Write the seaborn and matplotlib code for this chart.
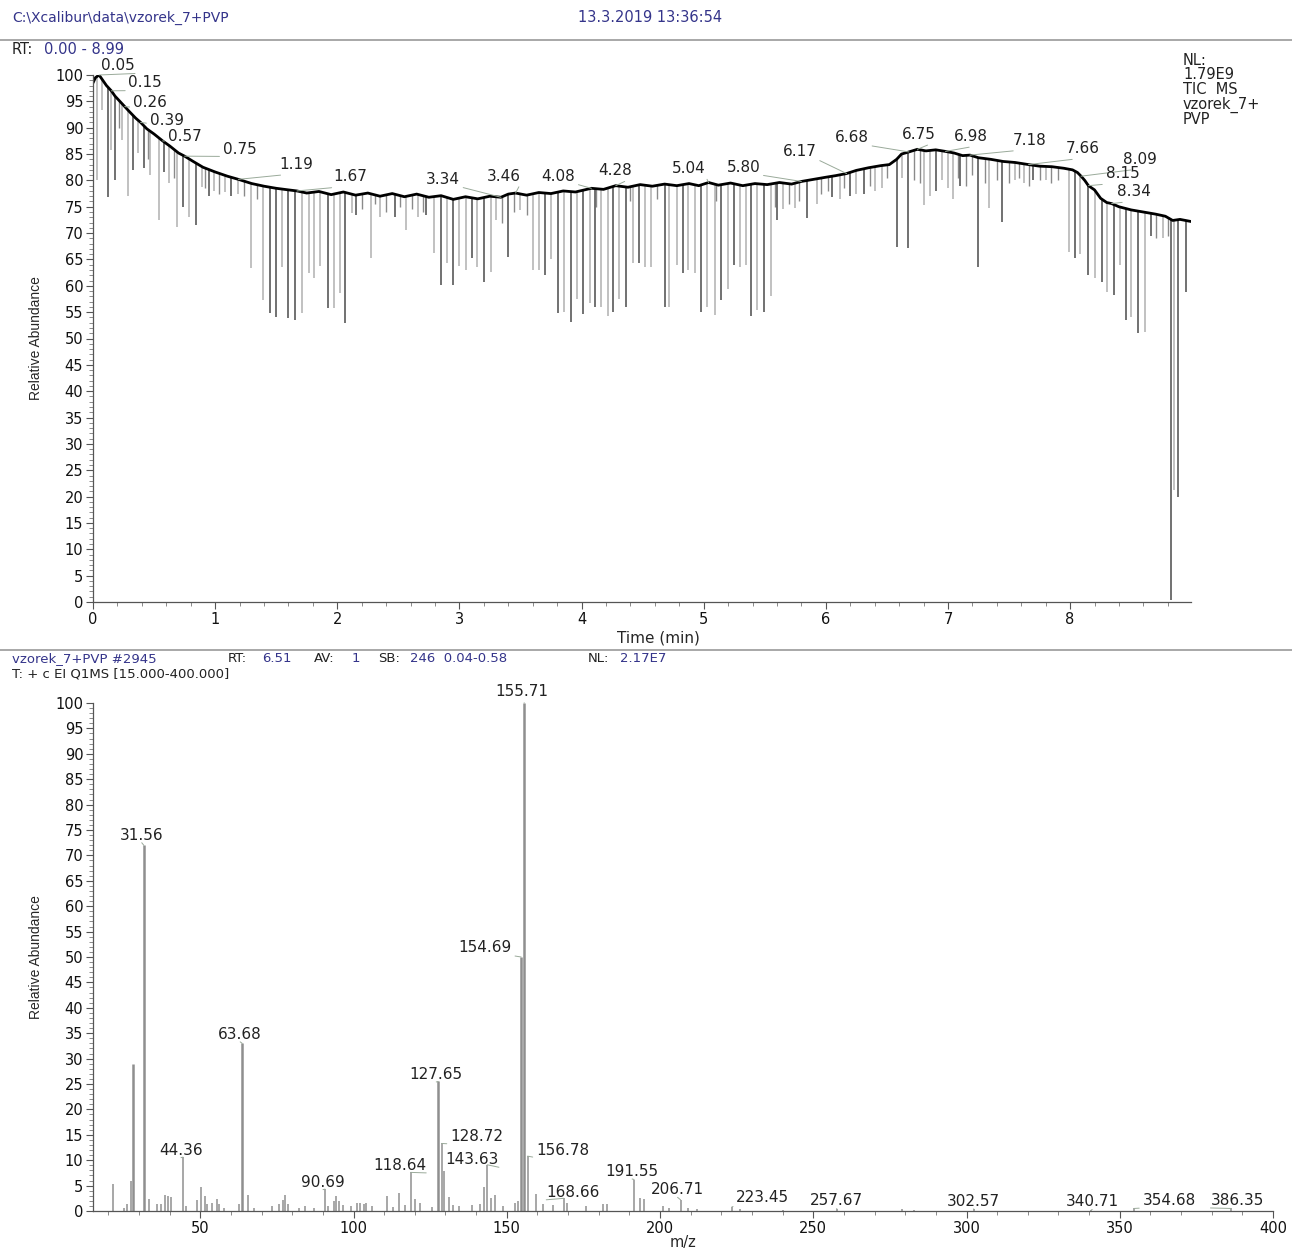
import numpy as np
import matplotlib
matplotlib.use('Agg')
import matplotlib.pyplot as plt
from matplotlib.lines import Line2D
from matplotlib.ticker import MultipleLocator
import seaborn as sns

# ---------------- chromatogram (TIC) ----------------
rt = [0.00, 0.02, 0.05, 0.08, 0.11, 0.15, 0.18, 0.22, 0.26, 0.30, 0.35, 0.39, 0.44, 0.50,
      0.57, 0.63, 0.70, 0.75, 0.82, 0.90, 1.00, 1.10, 1.19, 1.30, 1.40, 1.50, 1.60, 1.67,
      1.75, 1.85, 1.95, 2.05, 2.15, 2.25, 2.35, 2.45, 2.55, 2.65, 2.75, 2.85, 2.95, 3.05,
      3.15, 3.25, 3.34, 3.40, 3.46, 3.55, 3.65, 3.75, 3.85, 3.95, 4.08, 4.18, 4.28, 4.38,
      4.48, 4.58, 4.68, 4.78, 4.88, 4.96, 5.04, 5.12, 5.22, 5.32, 5.42, 5.52, 5.62, 5.72,
      5.80, 5.90, 6.00, 6.08, 6.17, 6.25, 6.35, 6.45, 6.52, 6.58, 6.62, 6.68, 6.75, 6.82,
      6.90, 6.98, 7.05, 7.12, 7.18, 7.25, 7.35, 7.45, 7.55, 7.66, 7.75, 7.85, 7.95, 8.02,
      8.06, 8.09, 8.12, 8.15, 8.20, 8.25, 8.30, 8.34, 8.40, 8.50, 8.60, 8.70, 8.78, 8.84,
      8.90, 8.99]
tic = [98.5, 99.5, 100.0, 99.0, 98.0, 97.0, 96.0, 95.0, 94.0, 93.0, 91.8, 91.0, 89.8, 88.8,
       87.5, 86.5, 85.2, 84.6, 83.6, 82.5, 81.6, 80.8, 80.2, 79.4, 78.9, 78.5, 78.2, 78.0,
       77.6, 77.9, 77.3, 77.8, 77.2, 77.6, 77.0, 77.5, 76.9, 77.4, 76.8, 77.1, 76.4, 76.9,
       76.5, 77.0, 76.8, 77.4, 77.6, 77.2, 77.7, 77.5, 78.0, 77.8, 78.5, 78.3, 79.0, 78.7,
       79.2, 78.9, 79.3, 79.0, 79.4, 79.0, 79.6, 79.1, 79.5, 79.0, 79.4, 79.2, 79.6, 79.3,
       79.8, 80.2, 80.6, 80.9, 81.3, 81.9, 82.4, 82.8, 83.0, 84.0, 85.0, 85.4, 85.9, 85.6,
       85.8, 85.5, 85.2, 84.7, 84.8, 84.3, 84.0, 83.6, 83.4, 83.0, 82.7, 82.6, 82.3, 82.0,
       81.5, 80.8, 80.0, 79.0, 78.2, 76.6, 75.8, 75.6, 75.0, 74.4, 74.0, 73.6, 73.2, 72.4,
       72.6, 72.2]

# downward dropouts (time, lowest abundance)
drop_dark_t = [0.12, 0.18, 0.33, 0.42, 0.58, 0.74, 0.84, 0.95, 1.13, 1.45, 1.50, 1.60, 1.65,
               1.92, 2.06, 2.15, 2.47, 2.73, 2.85, 2.95, 3.10, 3.20, 3.40, 3.70, 3.81, 3.91,
               4.01, 4.11, 4.26, 4.36, 4.47, 4.68, 4.83, 4.98, 5.14, 5.25, 5.39, 5.49, 5.60,
               5.85, 6.05, 6.20, 6.31, 6.58, 6.67, 6.90, 7.10, 7.25, 7.44, 7.70, 8.04, 8.15,
               8.26, 8.36, 8.46, 8.56, 8.66, 8.83, 8.88, 8.95]
drop_dark_min = [76.9, 80.0, 82.0, 82.4, 81.5, 75.0, 71.5, 77.0, 77.0, 54.8, 54.1, 53.9, 53.5,
                 55.8, 52.9, 73.5, 73.0, 73.5, 60.2, 60.2, 65.3, 60.7, 65.5, 62.0, 54.8, 53.1,
                 54.6, 56.0, 55.0, 56.0, 64.3, 56.0, 62.4, 55.0, 57.4, 64.0, 54.3, 55.0, 72.4,
                 72.9, 76.9, 77.0, 77.5, 67.4, 67.2, 78.0, 79.0, 63.6, 72.1, 80.0, 65.3, 62.0,
                 60.7, 58.3, 53.5, 51.0, 69.5, 0.4, 20.0, 58.8]
drop_light_t = [0.03, 0.07, 0.15, 0.24, 0.29, 0.37, 0.47, 0.54, 0.62, 0.69, 0.79, 0.89, 0.99,
                1.08, 1.19, 1.29, 1.39, 1.55, 1.71, 1.77, 1.81, 1.86, 1.97, 2.02, 2.12, 2.28,
                2.35, 2.56, 2.66, 2.79, 2.90, 3.00, 3.05, 3.14, 3.26, 3.30, 3.50, 3.60, 3.65,
                3.75, 3.86, 3.96, 4.07, 4.16, 4.22, 4.31, 4.42, 4.52, 4.57, 4.72, 4.78, 4.87,
                4.93, 5.03, 5.09, 5.20, 5.30, 5.35, 5.44, 5.55, 5.65, 5.75, 5.93, 6.12, 6.25,
                6.40, 6.46, 6.62, 6.80, 6.85, 6.95, 7.00, 7.04, 7.34, 7.55, 7.62, 7.80, 7.99,
                8.08, 8.20, 8.30, 8.41, 8.50, 8.61, 8.76, 8.85]
drop_light_min = [80.0, 93.3, 85.8, 87.7, 77.0, 85.2, 81.0, 72.5, 79.5, 71.2, 73.0, 78.8, 78.0,
                  77.8, 77.5, 63.4, 57.3, 63.6, 54.8, 62.4, 61.5, 63.8, 55.8, 58.6, 73.8, 65.3,
                  73.0, 70.6, 73.0, 66.2, 64.3, 63.8, 63.0, 63.6, 62.6, 72.5, 74.4, 63.0, 63.0,
                  65.0, 55.0, 57.5, 56.7, 56.0, 54.3, 57.5, 64.3, 63.5, 63.5, 56.0, 64.0, 63.0,
                  62.4, 56.0, 54.5, 59.4, 63.5, 64.0, 55.5, 58.0, 74.5, 74.8, 75.5, 76.5, 77.5,
                  78.0, 78.5, 80.5, 75.3, 77.0, 80.0, 78.5, 76.5, 74.8, 80.0, 79.5, 80.0, 66.4,
                  66.0, 61.5, 58.8, 64.0, 54.1, 51.2, 69.0, 21.2]
# short dips along the trace
dip_t = [0.21, 0.45, 0.66, 0.92, 1.03, 1.24, 1.34, 2.20, 2.31, 2.40, 2.51, 2.61, 2.70, 3.35,
         3.45, 3.55, 4.12, 4.40, 4.62, 5.10, 5.58, 5.70, 5.78, 5.96, 6.02, 6.15, 6.36, 6.50,
         6.72, 6.77, 7.08, 7.15, 7.20, 7.30, 7.40, 7.50, 7.58, 7.66, 7.75, 7.84, 7.90, 8.70,
         8.80]
dip_min = [90.0, 84.0, 80.5, 78.5, 77.5, 77.0, 76.5, 74.5, 75.5, 74.0, 75.0, 74.5, 74.0, 72.0,
           74.0, 73.5, 75.0, 76.0, 76.5, 76.0, 75.0, 75.5, 76.0, 77.5, 78.0, 78.5, 79.0, 80.5,
           80.0, 79.5, 80.5, 79.0, 81.0, 79.5, 80.0, 79.5, 80.5, 79.0, 80.0, 79.5, 80.0, 69.0,
           69.5]

peak_rt = [0.05, 0.15, 0.26, 0.39, 0.57, 0.75, 1.19, 1.67, 3.34, 3.46, 4.08, 4.28, 5.04,
           5.80, 6.17, 6.68, 6.75, 6.98, 7.18, 7.66, 8.09, 8.15, 8.34]
peak_abund = [100.0, 97.0, 94.0, 91.0, 87.5, 84.6, 80.2, 78.0, 76.8, 77.6, 78.5, 79.0, 79.6,
              79.8, 81.3, 85.4, 85.9, 85.5, 84.8, 83.0, 80.8, 79.0, 75.6]
peak_text = ['0.05', '0.15', '0.26', '0.39', '0.57', '0.75', '1.19', '1.67', '3.34', '3.46',
             '4.08', '4.28', '5.04', '5.80', '6.17', '6.68', '6.75', '6.98', '7.18', '7.66',
             '8.09', '8.15', '8.34']
# label offsets in pixels (layout only)
peak_offset = [(19, 9), (34, 8), (25, 4), (26, 2), (22, 4), (55, 7), (58, 15), (53, 14),
               (-58, 18), (-12, 17), (-33, 12), (-1, 15), (-20, 14), (-58, 14), (-47, 22),
               (-57, 14), (1, 15), (25, 15), (60, 15), (54, 16), (59, 17), (34, 12), (22, 12)]

# ---------------- mass spectrum ----------------
mz = [21.6, 25.0, 26.0, 27.3, 27.9, 31.56, 33.4, 35.9, 37.2, 38.6, 39.6, 40.6, 44.36, 45.4,
      49.0, 50.4, 51.4, 52.2, 53.8, 55.4, 56.2, 57.9, 62.6, 63.68, 65.7, 67.6, 73.5, 75.8,
      76.9, 77.7, 78.6, 82.3, 84.3, 87.0, 90.69, 91.8, 93.6, 94.2, 95.2, 96.5, 99.3, 101.0,
      102.0, 103.3, 104.0, 106.0, 110.8, 112.8, 114.9, 116.9, 118.64, 120.0, 121.6, 125.7,
      127.65, 128.72, 129.5, 131.1, 132.5, 134.5, 138.6, 141.3, 142.7, 143.63, 144.7, 146.0,
      148.8, 152.8, 153.8, 154.69, 155.71, 156.78, 159.6, 161.7, 165.0, 168.66, 169.8, 175.9,
      181.3, 182.7, 191.55, 193.5, 194.8, 201.0, 203.0, 206.71, 209.0, 212.0, 223.45, 226.0,
      240.0, 257.67, 279.0, 283.0, 302.57, 340.71, 354.68, 386.35]
intensity = [5.4, 0.6, 1.4, 6.0, 29.0, 72.0, 2.3, 1.4, 1.4, 3.2, 2.9, 2.8, 10.6, 0.9,
             2.1, 4.7, 2.9, 1.4, 1.6, 2.3, 1.4, 0.6, 1.3, 33.0, 3.2, 0.6, 1.0, 1.4,
             2.1, 3.2, 1.4, 0.6, 1.0, 0.6, 4.3, 1.0, 1.9, 2.9, 1.9, 1.2, 1.0, 1.5,
             1.6, 1.4, 1.6, 1.0, 2.9, 0.8, 3.6, 1.2, 7.6, 2.3, 1.6, 0.8,
             25.5, 13.3, 7.8, 2.8, 1.2, 1.0, 1.2, 1.4, 4.7, 9.1, 2.6, 3.2,
             1.0, 1.6, 1.9, 50.0, 100.0, 10.8, 3.4, 1.4, 1.2, 2.5, 1.6, 1.0,
             1.3, 1.3, 6.2, 2.6, 2.3, 1.0, 0.5, 2.2, 0.6, 0.4, 0.8, 0.3,
             0.2, 0.4, 0.3, 0.2, 0.3, 0.2, 0.5, 0.5]

ms_labels = ['31.56', '44.36', '63.68', '90.69', '118.64', '127.65', '128.72', '143.63',
             '154.69', '155.71', '156.78', '168.66', '191.55', '206.71', '223.45', '257.67',
             '302.57', '340.71', '354.68', '386.35']
ms_offset = [(-2, 10), (-2, 7), (-2, 9), (-2, 7), (-11, 7), (-2, 7), (35, 7), (-15, 5),
             (-36, 9), (-2, 11), (35, 6), (9, 6), (-2, 8), (-3, 10), (31, 9), (0, 8),
             (-1, 8), (1, 8), (35, 8), (6, 8)]

W, H = 1292, 1253
NAVY = '#34348a'
DARK = '#222222'
sns.set_theme(style='ticks')
plt.rcParams['font.family'] = ['DejaVu Sans']

fig = plt.figure(figsize=(W / 100, H / 100), dpi=100)


def fig_text(px, py, s, **kw):
    fig.text(px / W, 1 - py / H, s, va='center', **kw)


def style_axis(ax):
    sns.despine(ax=ax)
    for side in ['left', 'bottom']:
        ax.spines[side].set_color('#555555')
        ax.spines[side].set_linewidth(0.9)
    ax.yaxis.set_major_locator(MultipleLocator(5))
    ax.yaxis.set_minor_locator(MultipleLocator(1))
    ax.tick_params(which='major', length=5, width=0.8, color='#555555', labelsize=10.5,
                   pad=2, labelcolor='#111111')
    ax.tick_params(which='minor', length=3, width=0.6, color='#777777')
    ax.set_ylabel('Relative Abundance', fontsize=10, labelpad=9,
                  fontfamily='Liberation Sans')
    ax.grid(False)


# header
fig_text(12, 18, 'C:\\Xcalibur\\data\\vzorek_7+PVP', fontsize=10, color=NAVY)
fig_text(578, 18, '13.3.2019 13:36:54', fontsize=10.5, color=NAVY)
fig.add_artist(Line2D([0, 1], [1 - 40 / H, 1 - 40 / H], color='#999999', lw=1.2))
fig_text(12, 50, 'RT:', fontsize=10.5, color=DARK)
fig_text(44, 50, '0.00 - 8.99', fontsize=10.5, color=NAVY)

# top panel
ax1 = fig.add_axes([93 / W, 1 - 602 / H, (1191 - 93) / W, (602 - 75) / H])
top = np.interp(drop_light_t, rt, tic)
ax1.vlines(drop_light_t, drop_light_min, top, color='#b0b0b0', lw=1.1)
top = np.interp(dip_t, rt, tic)
ax1.vlines(dip_t, dip_min, top, color='#8a8a8a', lw=1.0)
top = np.interp(drop_dark_t, rt, tic)
ax1.vlines(drop_dark_t, drop_dark_min, top, color='#4a4a4a', lw=1.1)
sns.lineplot(x=rt, y=tic, ax=ax1, color='black', lw=2.0, estimator=None)
for t, a, s, off in zip(peak_rt, peak_abund, peak_text, peak_offset):
    ax1.annotate(s, xy=(t, a), xytext=off, textcoords='offset pixels', ha='center',
                 va='center', fontsize=11, color=DARK,
                 arrowprops=dict(arrowstyle='-', color='#9aaa9a', lw=0.7, shrinkA=0,
                                 shrinkB=0, relpos=(1, 0)))
ax1.set_xlim(0, 8.99)
ax1.set_ylim(0, 100)
ax1.xaxis.set_major_locator(MultipleLocator(1))
ax1.xaxis.set_minor_locator(MultipleLocator(0.2))
style_axis(ax1)
ax1.set_xlabel('Time (min)', fontsize=11, labelpad=2)
ax1.xaxis.set_label_coords(0.515, -0.055)
fig_text(1183, 90, 'NL:\n1.79E9\nTIC  MS\nvzorek_7+\nPVP', fontsize=10.5, color=DARK,
         linespacing=0.95)

# middle header
fig.add_artist(Line2D([0, 1], [1 - 650 / H, 1 - 650 / H], color='#999999', lw=1.2))
scan_parts = [('vzorek_7+PVP #2945', 12, NAVY), ('RT:', 228, DARK), ('6.51', 262, NAVY),
              ('AV:', 314, DARK), ('1', 352, NAVY), ('SB:', 378, DARK),
              ('246  0.04-0.58', 410, NAVY), ('NL:', 588, DARK), ('2.17E7', 620, NAVY)]
for s, px, c in scan_parts:
    fig_text(px, 659, s, fontsize=9.5, color=c)
fig_text(12, 674, 'T: + c EI Q1MS [15.000-400.000]', fontsize=9.5, color=DARK)

# bottom panel
ax2 = fig.add_axes([93 / W, 1 - 1211 / H, (1273 - 93) / W, (1211 - 703) / H])
big = [v >= 20 for v in intensity]
ax2.vlines([m for m, b in zip(mz, big) if not b], 0,
           [v for v, b in zip(intensity, big) if not b], color='#8f8f8f', lw=1.1)
ax2.vlines([m for m, b in zip(mz, big) if b], 0,
           [v for v, b in zip(intensity, big) if b], color='#8f8f8f', lw=1.8)
for s, off in zip(ms_labels, ms_offset):
    m = float(s)
    v = intensity[mz.index(m)]
    rp = (0, 0) if off[0] > 5 else ((1, 0) if off[0] < -5 else (0.5, 0))
    ax2.annotate(s, xy=(m, v), xytext=off, textcoords='offset pixels', ha='center',
                 va='center', fontsize=11, color=DARK,
                 arrowprops=dict(arrowstyle='-', color='#9aaa9a', lw=0.7, shrinkA=0,
                                 shrinkB=0, relpos=rp))
ax2.set_xlim(15, 400)
ax2.set_ylim(0, 100)
ax2.xaxis.set_major_locator(MultipleLocator(50))
ax2.xaxis.set_minor_locator(MultipleLocator(10))
style_axis(ax2)
ax2.set_xlabel('m/z', fontsize=10.5, labelpad=0)
ax2.xaxis.set_label_coords(0.5, -0.047)

fig.savefig('out.png', dpi=100, facecolor='white')
